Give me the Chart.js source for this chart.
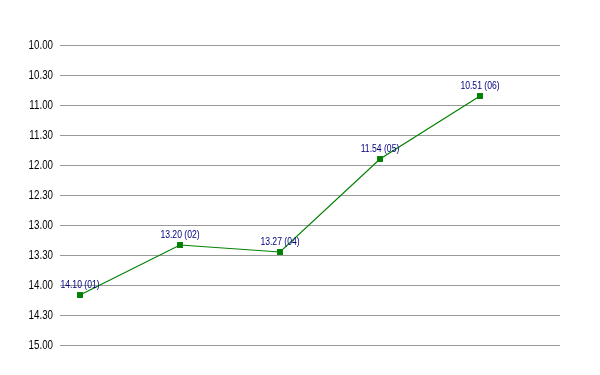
<!DOCTYPE html>
<html>
<head>
<meta charset="utf-8">
<script src="https://cdn.jsdelivr.net/npm/chart.js@4/dist/chart.umd.min.js"></script>
<style>
  html, body { margin: 0; padding: 0; background: #fff; }
  #wrap { width: 600px; height: 375px; position: relative; }
</style>
</head>
<body>
<div id="wrap"><canvas id="chart"></canvas></div>
<script>
// --- Data ---
const LAP_LABELS = ['01', '02', '04', '05', '06'];
const LAP_TIMES = ['14.10', '13.20', '13.27', '11.54', '10.51']; // min.sec
const Y_TICKS = ['10.00', '10.30', '11.00', '11.30', '12.00', '12.30', '13.00', '13.30', '14.00', '14.30', '15.00'];

const LINE_COLOR = '#008000';
const LABEL_COLOR = '#000080';
const GRID_COLOR = '#999999';

// "mm.ss" -> minutes
function toMinutes(t) {
  const [m, s] = t.split('.').map(Number);
  return m + s / 60;
}

const points = LAP_TIMES.map((t, i) => ({ x: i + 1, y: toMinutes(t) }));
const tickValues = Y_TICKS.map(toMinutes);

// Value labels above each point
const pointLabels = {
  id: 'pointLabels',
  afterDatasetsDraw(chart) {
    const ctx = chart.ctx;
    const meta = chart.getDatasetMeta(0);
    ctx.save();
    ctx.font = '10px "Liberation Sans", Arial, sans-serif';
    ctx.fillStyle = LABEL_COLOR;
    ctx.textAlign = 'center';
    ctx.textBaseline = 'middle';
    meta.data.forEach((pt, i) => {
      ctx.save();
      ctx.translate(pt.x, pt.y - 10);
      ctx.scale(0.86, 1);
      ctx.fillText(LAP_TIMES[i] + ' (' + LAP_LABELS[i] + ')', 0, 0);
      ctx.restore();
    });
    ctx.restore();
  },
};

// Condensed y tick labels (no narrow font installed)
const narrowTicks = {
  id: 'narrowTicks',
  afterDraw(chart) {
    const ctx = chart.ctx;
    const y = chart.scales.y;
    ctx.save();
    ctx.font = '13px "Liberation Sans", Arial, sans-serif';
    ctx.fillStyle = '#000';
    ctx.textAlign = 'right';
    ctx.textBaseline = 'middle';
    Y_TICKS.forEach((label, i) => {
      const py = y.getPixelForValue(tickValues[i]);
      ctx.save();
      ctx.translate(53, py);
      ctx.scale(0.75, 1);
      ctx.fillText(label, 0, 0);
      ctx.restore();
    });
    ctx.restore();
  },
};

new Chart(document.getElementById('chart').getContext('2d'), {
  type: 'line',
  data: {
    datasets: [{
      data: points,
      borderColor: LINE_COLOR,
      backgroundColor: LINE_COLOR,
      borderWidth: 1.2,
      pointStyle: 'rect',
      pointRadius: 4.2,
      pointBorderWidth: 0,
      tension: 0,
    }],
  },
  options: {
    responsive: true,
    maintainAspectRatio: false,
    animation: false,
    layout: { padding: { left: 0, right: 40, top: 45, bottom: 30 } },
    plugins: { legend: { display: false }, tooltip: { enabled: false } },
    scales: {
      x: {
        type: 'linear',
        display: false,
        min: 0.8,
        max: 5.8,
      },
      y: {
        reverse: true,
        min: tickValues[0],
        max: tickValues[tickValues.length - 1],
        afterBuildTicks: (axis) => { axis.ticks = tickValues.map((v) => ({ value: v })); },
        afterFit: (axis) => { axis.width = 60; },
        ticks: {
          color: 'rgba(0,0,0,0)',
          padding: 7,
          font: { size: 11 },
        },
        grid: { color: GRID_COLOR, drawTicks: false },
        border: { display: false },
      },
    },
  },
  plugins: [pointLabels, narrowTicks],
});
</script>
</body>
</html>
